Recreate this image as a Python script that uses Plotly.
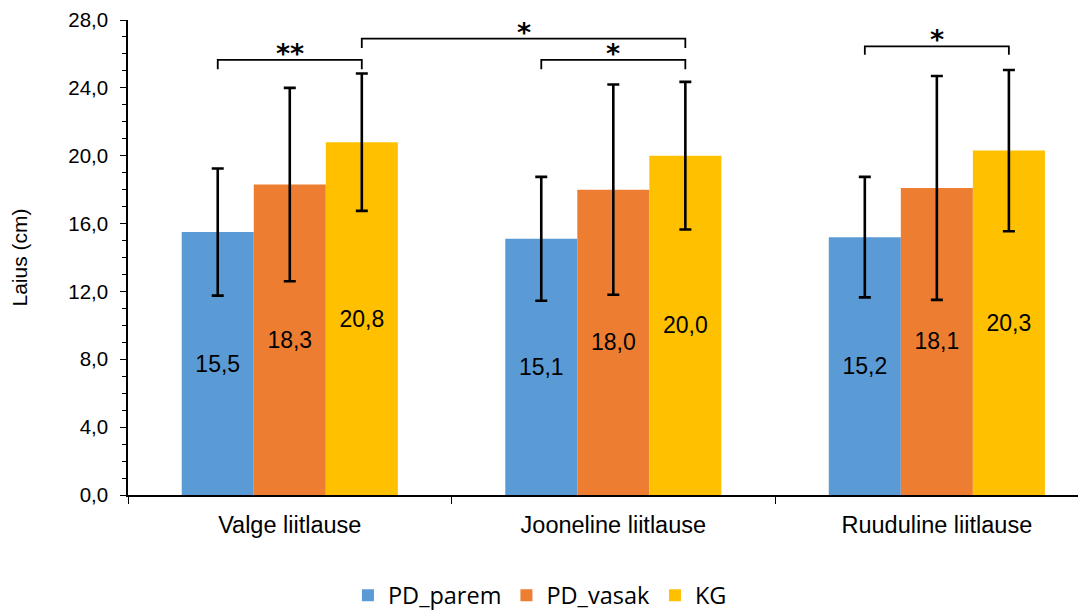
import plotly.graph_objects as go

categories = ["Valge liitlause", "Jooneline liitlause", "Ruuduline liitlause"]
series_names = ["PD_parem", "PD_vasak", "KG"]
colors = ["#5B9BD5", "#ED7D31", "#FFC000"]

pd_parem = [15.5, 15.1, 15.2]
pd_vasak = [18.3, 18.0, 18.1]
kg = [20.8, 20.0, 20.3]

pd_parem_sd = [3.75, 3.65, 3.55]
pd_vasak_sd = [5.7, 6.2, 6.6]
kg_sd = [4.05, 4.35, 4.75]

values = [pd_parem, pd_vasak, kg]
sds = [pd_parem_sd, pd_vasak_sd, kg_sd]

ytick_vals = [0, 4, 8, 12, 16, 20, 24, 28]
ytick_text = ["0,0", "4,0", "8,0", "12,0", "16,0", "20,0", "24,0", "28,0"]

# significance brackets: (cat_from, series_from, cat_to, series_to, y, leg, label)
brackets = [
    (0, 0, 0, 2, 25.65, 0.55, "**"),
    (0, 2, 1, 2, 26.9, 0.55, "*"),
    (1, 0, 1, 2, 25.65, 0.55, "*"),
    (2, 0, 2, 2, 26.45, 0.5, "*"),
]

fig = go.Figure()
for name, vals, sd, col in zip(series_names, values, sds, colors):
    fig.add_trace(go.Bar(
        x=categories, y=vals, name=name,
        marker=dict(color=col, line=dict(width=0)),
        error_y=dict(type="data", array=sd, visible=True, color="black",
                     thickness=2.6, width=6),
        text=[f"{v:.1f}".replace(".", ",") for v in vals],
        textposition="inside", insidetextanchor="middle",
        textfont=dict(family="Liberation Sans, Arial", size=23, color="black"),
        textangle=0,
    ))

bar_w = 0.2226
offsets = [-bar_w, 0, bar_w]
shapes = []
annotations = []
for c0, s0, c1, s1, yv, leg, lab in brackets:
    x0 = c0 + offsets[s0]
    x1 = c1 + offsets[s1]
    shapes.append(dict(type="path", xref="x", yref="y",
                       path=f"M {x0},{yv-leg} L {x0},{yv} L {x1},{yv} L {x1},{yv-leg}",
                       line=dict(color="black", width=1.8)))
    annotations.append(dict(x=(x0 + x1) / 2, y=yv, xref="x", yref="y",
                            text=f"<b>{lab}</b>", showarrow=False,
                            yanchor="bottom", yshift=-11,
                            font=dict(family="DejaVu Sans", size=27, color="black")))

fig.update_layout(
    width=1078, height=605,
    margin=dict(l=120, r=0, t=12, b=118, autoexpand=False),
    plot_bgcolor="white", paper_bgcolor="white",
    barmode="group", bargap=0.332, bargroupgap=0,
    font=dict(family="Liberation Sans, Arial", size=20, color="black"),
    showlegend=True,
    legend=dict(orientation="h", x=0.43, xanchor="center", y=-0.165, yanchor="top",
                font=dict(family="Open Sans", size=23.5, color="black"),
                itemwidth=30, traceorder="normal"),
    shapes=shapes, annotations=annotations,
)
fig.update_xaxes(
    type="category", range=[-0.5, 2.461], automargin=False,
    showline=True, linecolor="black", linewidth=1.5,
    ticks="outside", tickson="boundaries", ticklen=7, tickcolor="black", tickwidth=1.3,
    ticklabelstandoff=8,
    tickfont=dict(family="Liberation Sans, Arial", size=23.5, color="black"),
    showgrid=False, zeroline=False,
)
fig.update_yaxes(
    range=[0, 28], tickvals=ytick_vals, ticktext=ytick_text, automargin=False,
    showline=True, linecolor="black", linewidth=1.5,
    ticks="outside", ticklen=6, tickcolor="black", tickwidth=1.3,
    ticklabelstandoff=8,
    minor=dict(dtick=1, ticks="outside", ticklen=4, tickcolor="black", tickwidth=1.3),
    tickfont=dict(family="Liberation Sans, Arial", size=20.5, color="black"),
    title=dict(text="Laius (cm)", font=dict(family="Liberation Sans, Arial", size=21), standoff=38),
    showgrid=False, zeroline=False,
)

fig.write_html("out.html")
